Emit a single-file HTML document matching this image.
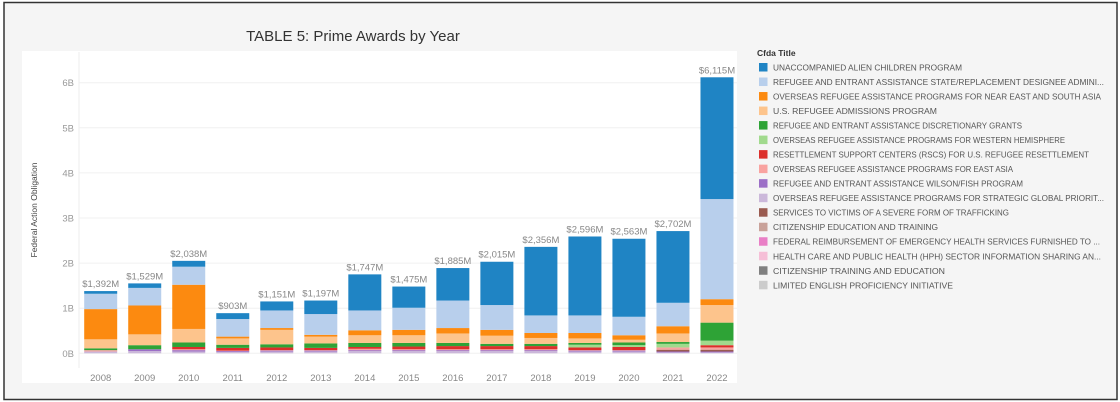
<!DOCTYPE html>
<html><head><meta charset="utf-8"><style>
html,body{margin:0;padding:0;background:#fff;}
svg{display:block;font-family:"Liberation Sans",sans-serif;}
</style></head><body>
<svg id="chart" width="1120" height="402" viewBox="0 0 1120 402">
<rect x="0" y="0" width="1120" height="402" fill="#fff"/>
<rect x="4" y="2.5" width="1113" height="397" fill="#f5f5f5" stroke="#333" stroke-width="1.5"/>
<rect x="22" y="51" width="715" height="332" fill="#fff"/>
<text x="353" y="41" font-size="15" fill="#333" text-anchor="middle">TABLE 5: Prime Awards by Year</text>
<text transform="translate(37,210) rotate(-90)" font-size="8.5" fill="#444" text-anchor="middle">Federal Action Obligation</text>
<g id="grid"></g><g id="bars"></g><g id="labels"></g><g id="legend"></g>
</svg>
<script>
const years=["2008","2009","2010","2011","2012","2013","2014","2015","2016","2017","2018","2019","2020","2021","2022"];
const totalLabels=["$1,392M","$1,529M","$2,038M","$903M","$1,151M","$1,197M","$1,747M","$1,475M","$1,885M","$2,015M","$2,356M","$2,596M","$2,563M","$2,702M","$6,115M"];
const yTicks=[0,1,2,3,4,5,6];
const yTickLabels=["0B","1B","2B","3B","4B","5B","6B"];
// values in billions, bottom-up stacking order
const ltpurple=[0.04,0.05,0.04,0.03,0.04,0.04,0.05,0.05,0.05,0.05,0.05,0.04,0.04,0.02,0.02];
const purple=[0.00,0.04,0.03,0.02,0.02,0.02,0.02,0.02,0.02,0.02,0.02,0.02,0.02,0.02,0.02];
const brown=[0.00,0.00,0.00,0.00,0.00,0.00,0.00,0.00,0.00,0.00,0.00,0.00,0.00,0.04,0.04];
const pink=[0.03,0.00,0.02,0.01,0.01,0.01,0.03,0.02,0.02,0.02,0.02,0.01,0.01,0.05,0.05];
const red=[0.00,0.00,0.05,0.06,0.06,0.05,0.04,0.06,0.07,0.07,0.07,0.06,0.07,0.00,0.05];
const ltgreen=[0.00,0.00,0.00,0.00,0.00,0.00,0.00,0.00,0.00,0.00,0.00,0.06,0.04,0.08,0.10];
const green=[0.04,0.09,0.10,0.07,0.07,0.10,0.09,0.08,0.07,0.05,0.05,0.04,0.06,0.04,0.40];
const ltorange=[0.20,0.24,0.30,0.14,0.32,0.15,0.17,0.17,0.21,0.18,0.13,0.10,0.06,0.19,0.39];
const orange=[0.67,0.64,0.98,0.04,0.04,0.04,0.11,0.12,0.12,0.13,0.11,0.12,0.10,0.16,0.13];
const ltblue=[0.34,0.39,0.40,0.39,0.39,0.46,0.44,0.49,0.61,0.55,0.39,0.39,0.41,0.52,2.22];
const blue=[0.06,0.10,0.13,0.13,0.20,0.30,0.80,0.47,0.72,0.96,1.52,1.75,1.73,1.59,2.70];
const legendNames=["UNACCOMPANIED ALIEN CHILDREN PROGRAM","REFUGEE AND ENTRANT ASSISTANCE STATE/REPLACEMENT DESIGNEE ADMINI...","OVERSEAS REFUGEE ASSISTANCE PROGRAMS FOR NEAR EAST AND SOUTH ASIA","U.S. REFUGEE ADMISSIONS PROGRAM","REFUGEE AND ENTRANT ASSISTANCE DISCRETIONARY GRANTS","OVERSEAS REFUGEE ASSISTANCE PROGRAMS FOR WESTERN HEMISPHERE","RESETTLEMENT SUPPORT CENTERS (RSCS) FOR U.S. REFUGEE RESETTLEMENT","OVERSEAS REFUGEE ASSISTANCE PROGRAMS FOR EAST ASIA","REFUGEE AND ENTRANT ASSISTANCE WILSON/FISH PROGRAM","OVERSEAS REFUGEE ASSISTANCE PROGRAMS FOR STRATEGIC GLOBAL PRIORIT...","SERVICES TO VICTIMS OF A SEVERE FORM OF TRAFFICKING","CITIZENSHIP EDUCATION AND TRAINING","FEDERAL REIMBURSEMENT OF EMERGENCY HEALTH SERVICES FURNISHED TO ...","HEALTH CARE AND PUBLIC HEALTH (HPH) SECTOR INFORMATION SHARING AN...","CITIZENSHIP TRAINING AND EDUCATION","LIMITED ENGLISH PROFICIENCY INITIATIVE"];
const legendWidths=[189,331,328,164,249,292,316,240,250,331,236,165,327,328,172,180];
const legendColors=["#1f84c4","#b8cfec","#fc8a10","#fdc48c","#2ea336","#a1da8d","#dc2f2b","#f9a3a0","#9c6fc7","#cbb8da","#9a5b50","#c9a29a","#e97fc6","#f6bfd7","#808080","#cccccc"];
const stack=[[ltpurple,"#cbb8da","ltpurple"],[purple,"#9c6fc7","purple"],[brown,"#9a5b50","brown"],[pink,"#f9a3a0","pink"],[red,"#dc2f2b","red"],[ltgreen,"#a1da8d","ltgreen"],[green,"#2ea336","green"],[ltorange,"#fdc48c","ltorange"],[orange,"#fc8a10","orange"],[ltblue,"#b8cfec","ltblue"],[blue,"#1f84c4","blue"]];
const NS="http://www.w3.org/2000/svg";
const y0=353.3, pxPerB=45.1;
function yScale(v){return y0-v*pxPerB;}
function xCenter(i){return 100.7+i*44.02;}
const bw=33;
function mk(tag,attrs,parent,txt){const e=document.createElementNS(NS,tag);for(const k in attrs)e.setAttribute(k,attrs[k]);if(txt!==undefined)e.textContent=txt;parent.appendChild(e);return e;}
const grid=document.getElementById('grid');
yTicks.forEach((t,i)=>{
  const l=mk('line',{x1:79,x2:737,y1:yScale(t),y2:yScale(t),stroke:"#f0f0f0","stroke-width":1},grid);
  
  
  const tx=mk('text',{x:74,y:yScale(t)+3.5,"font-size":9.5,fill:"#999","text-anchor":"end"},grid,yTickLabels[i]);
  
  
});
const ax=mk('line',{x1:79,x2:79,y1:52,y2:368,stroke:"#eee","stroke-width":1},grid);


const bars=document.getElementById('bars'),labels=document.getElementById('labels');
years.forEach((yr,i)=>{
  let acc=0;
  stack.forEach(([arr,col,nm])=>{
    const v=arr[i]; if(v<=0)return;
    const r=mk('rect',{x:xCenter(i)-bw/2,y:yScale(acc+v),width:bw,height:v*pxPerB,fill:col},bars);
    
    
    acc+=v;
  });
  const tl=mk('text',{x:xCenter(i),y:yScale(acc)-4,"font-size":9.5,fill:"#888","text-anchor":"middle"},labels,totalLabels[i]);
  
  
  const xl=mk('text',{x:xCenter(i),y:381,"font-size":9.5,fill:"#888","text-anchor":"middle"},labels,yr);
  
  
});
const lg=document.getElementById('legend');
const lt=mk('text',{x:757,y:56,"font-size":8.5,fill:"#333","font-weight":"bold"},lg,"Cfda Title");


legendNames.forEach((n,i)=>{
  const yy=63+i*14.52;
  const g=mk('g',{},lg);
  
  
  mk('rect',{x:759,y:yy,width:8.5,height:8.5,fill:legendColors[i]},g);
  mk('text',{x:773,y:yy+7.5,"font-size":8.5,fill:"#555",textLength:legendWidths[i],lengthAdjust:"spacingAndGlyphs"},g,n);
});
</script>
</body></html>
